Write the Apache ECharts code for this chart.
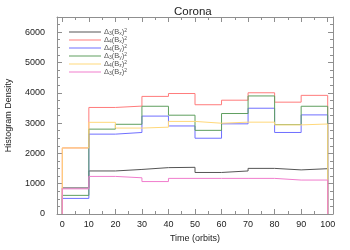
<!DOCTYPE html>
<html><head><meta charset="utf-8">
<script src="https://cdn.jsdelivr.net/npm/echarts@6/dist/echarts.min.js"></script>
<style>html,body{margin:0;padding:0;background:#fff}#c{width:350px;height:250px}</style>
</head><body><div id="c"></div>
<script>
// bin edges (orbits)
var binEdges = [0,10,20,30,40,50,60,70,80,90,100];
var xTickLabels = [0,10,20,30,40,50,60,70,80,90,100];
var xMinorTicks = [5,15,25,35,45,55,65,75,85,95];
var yTickLabels = [0,1000,2000,3000,4000,5000,6000];
var yMinorTicks = [250,500,750,1250,1500,1750,2250,2500,2750,3250,3500,3750,4250,4500,4750,5250,5500,5750,6250];

var seriesNames = ['d3Bx','d4Bx','d4By','d3By','d4Bz','d3Bz'];
var legendParts = [['3','x'],['4','x'],['4','y'],['3','y'],['4','z'],['3','z']];
var seriesColors = ['#555555','#ff7b7b','#6f6fff','#5f9f5f','#ffd87a','#f07ccc'];

var blackVals  = [860,1420,1470,1530,1540,1370,1420,1505,1455,1495];
var redVals    = [2180,3515,3560,3880,3975,3605,3755,4000,3690,3915];
var blueVals   = [515,2635,2690,3230,2905,2500,2975,3490,2690,3270];
var greenVals  = [615,2800,2960,3555,3260,2760,3315,3895,2950,3555];
var yellowVals = [2180,3025,2835,2865,3055,2995,3030,3030,2940,2970];
var pinkVals   = [830,1240,1195,1070,1175,1175,1175,1175,1120,1120];

var allVals = [blackVals, redVals, blueVals, greenVals, yellowVals, pinkVals];

function stepData(vals){
  var d = [[binEdges[0], 0]];
  for (var i = 0; i < vals.length; i++) d.push([binEdges[i+1], vals[i]]);
  d.push([binEdges[binEdges.length-1], 0]);
  return d;
}

var frameColor = '#8f8f8f';
var font = 'Liberation Sans, Arial, sans-serif';

var series = allVals.map(function(v, i){
  return {
    name: seriesNames[i], type: 'line', step: 'start', data: stepData(v),
    symbol: 'none', showSymbol: false, lineStyle: {width: 1, color: seriesColors[i]},
    itemStyle: {color: seriesColors[i]}, animation: false, xAxisIndex: 0, yAxisIndex: 0
  };
});

function plain(v){ return String(v); }

function xAx(pos, ticks, len, labels, line){
  return {
    type: 'value', position: pos, min: -2, max: 102,
    axisLine: {show: line, onZero: false, lineStyle: {color: frameColor, width: 1}},
    axisTick: {show: true, inside: true, length: len, customValues: ticks, lineStyle: {color: frameColor}},
    axisLabel: labels ? {show: true, customValues: ticks, formatter: plain, fontSize: 9, color: '#222', fontFamily: font, margin: 6} : {show: false},
    splitLine: {show: false}
  };
}
function yAx(pos, ticks, len, labels, line){
  return {
    type: 'value', position: pos, min: 0, max: 6500,
    axisLine: {show: line, onZero: false, lineStyle: {color: frameColor, width: 1}},
    axisTick: {show: true, inside: true, length: len, customValues: ticks, lineStyle: {color: frameColor}},
    axisLabel: labels ? {show: true, customValues: ticks, formatter: plain, fontSize: 9, color: '#222', fontFamily: font, margin: 12} : {show: false},
    splitLine: {show: false}
  };
}

var xb = xAx('bottom', xTickLabels, 5, true, true);
xb.name = 'Time (orbits)'; xb.nameLocation = 'middle'; xb.nameGap = 18;
xb.nameTextStyle = {fontSize: 9, color: '#222', fontFamily: font};
var yl = yAx('left', yTickLabels, 5, true, true);
yl.name = 'Histogram Density'; yl.nameLocation = 'middle'; yl.nameGap = 44;
yl.nameTextStyle = {fontSize: 9, color: '#222', fontFamily: font};

var chart = echarts.init(document.getElementById('c'), null, {renderer: 'canvas'});
chart.setOption({
  animation: false,
  backgroundColor: '#ffffff',
  title: {text: 'Corona', left: 169, top: 1, textStyle: {fontSize: 11.5, fontWeight: 'normal', color: '#222', fontFamily: font}},
  grid: {left: 57, right: 17, top: 17, bottom: 36, containLabel: false, outerBoundsMode: 'none'},
  legend: {
    show: true, orient: 'vertical', left: 69, top: 28, padding: 0, itemWidth: 32, itemHeight: 1, itemGap: 0,
    icon: 'rect', data: seriesNames, selectedMode: false,
    formatter: function(name){
      var p = legendParts[seriesNames.indexOf(name)];
      return '{a|\u0394}{s|' + p[0] + '}{a|(B}{s|' + p[1] + '}{a|)}{p|2}';
    },
    textStyle: {color: '#555', fontFamily: font, fontSize: 7.5, padding: [0,0,0,-2],
      rich: {
        a: {fontSize: 7.5, color: '#555', lineHeight: 8, fontFamily: font},
        s: {fontSize: 5, color: '#555', lineHeight: 8, fontFamily: font, verticalAlign: 'bottom'},
        p: {fontSize: 5, color: '#555', lineHeight: 8, fontFamily: font, verticalAlign: 'top'}
      }}
  },
  xAxis: [xb, xAx('bottom', xMinorTicks, 3, false, false), xAx('top', xTickLabels, 5, false, true), xAx('top', xMinorTicks, 3, false, false)],
  yAxis: [yl, yAx('left', yMinorTicks, 3, false, false), yAx('right', yTickLabels, 5, false, true), yAx('right', yMinorTicks, 3, false, false)],
  series: series
});
</script></body></html>
